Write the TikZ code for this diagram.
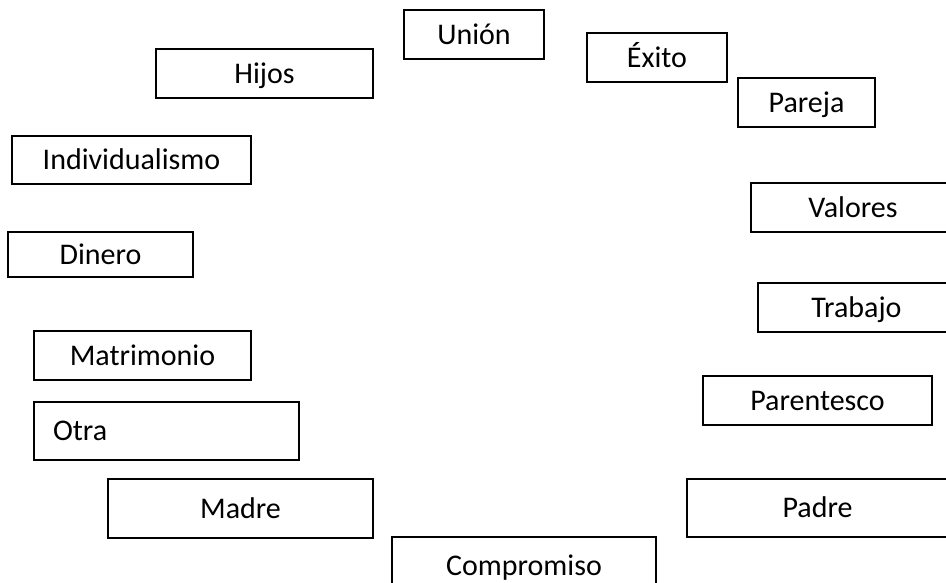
\documentclass[tikz,border=0pt]{standalone}
\usepackage{fontspec}
\setmainfont{Carlito}
\begin{document}
\begin{tikzpicture}[x=1pt,y=-1pt,
  box/.style={draw=black, line width=2.6pt, inner sep=0pt, outer sep=0pt,
    text height=19pt, text depth=0pt, font=\fontsize{30}{36}\selectfont, fill=white}]
\useasboundingbox (0,0) rectangle (946,582);
\clip (0,0) rectangle (946,582);
\fill[white] (0,0) rectangle (946,582);
\node[box, minimum width=140pt, minimum height=49pt] (union) at (474,34.5) {Unión};
\node[box, minimum width=217pt, minimum height=49pt] (hijos) at (264.5,73.5) {Hijos};
\node[box, minimum width=239pt, minimum height=48pt] (indiv) at (131.5,160) {Individualismo};
\node[box, minimum width=185pt, minimum height=45pt] (dinero) at (100.5,254.5) {Dinero};
\node[box, minimum width=140pt, minimum height=49pt] (exito) at (657,57.5) {Éxito};
\node[box, minimum width=137pt, minimum height=49pt] (pareja) at (806.5,102.5) {Pareja};
\node[box, minimum width=204pt, minimum height=49pt] (valores) at (853,207.5) {Valores};
\node[box, minimum width=197pt, minimum height=49pt] (trabajo) at (856.5,307.5) {Trabajo};
\node[box, minimum width=229pt, minimum height=49pt] (parentesco) at (817.5,400.5) {Parentesco};
\node[box, minimum width=261pt, minimum height=58pt] (padre) at (817.5,508) {Padre};
\node[box, minimum width=217pt, minimum height=49pt] (matrimonio) at (142.5,355.5) {Matrimonio};
\node[box, minimum height=58pt, inner xsep=19pt, text width=227pt, align=left] (otra) at (166.5,431) {Otra};
\node[box, minimum width=265pt, minimum height=59pt] (madre) at (240.5,508.5) {Madre};
\node[box, minimum width=264pt, minimum height=58pt] (compromiso) at (524,566) {Compromiso};
\end{tikzpicture}
\end{document}
